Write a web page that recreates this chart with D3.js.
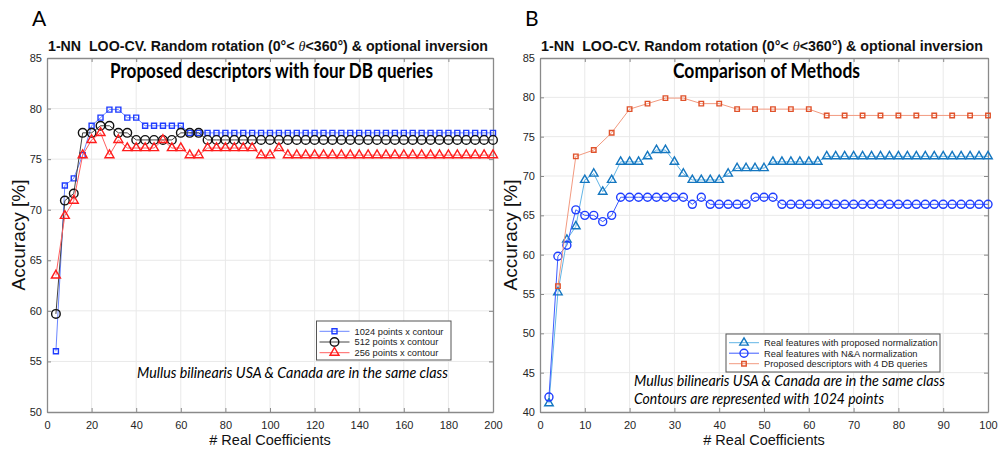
<!DOCTYPE html>
<html>
<head>
<meta charset="utf-8">
<script src="https://cdn.jsdelivr.net/npm/d3@7"></script>
<style>
  body { margin: 0; background: #fff; }
  svg { display: block; }
</style>
</head>
<body>
<svg id="chart" width="998" height="455"></svg>
<script>
// ---- data, panel A (accuracy vs number of real coefficients) ----
const coefA = [4,8,12,16,20,24,28,32,36,40,44,48,52,56,60,64,68,72,76,80,84,88,92,96,100,
  104,108,112,116,120,124,128,132,136,140,144,148,152,156,160,164,168,172,176,180,184,188,192,196,200]

const acc1024 = [56.0,72.4,73.1,75.4,78.3,79.1,79.9,79.9,79.1,79.1,78.3,78.3,78.3,78.3,78.3,77.6,77.6,77.6,77.6,77.6,
  77.6,77.6,77.6,77.6,77.6,77.6,77.6,77.6,77.6,77.6,77.6,77.6,77.6,77.6,77.6,77.6,77.6,77.6,77.6,77.6,
  77.6,77.6,77.6,77.6,77.6,77.6,77.6,77.6,77.6,77.6]
const acc512 = [59.7,70.9,71.6,77.6,77.6,78.3,78.3,77.6,77.6,76.9,76.9,76.9,76.9,76.9,77.6,77.6,77.6,76.9,76.9,76.9,
  76.9,76.9,76.9,76.9,76.9,76.9,76.9,76.9,76.9,76.9,76.9,76.9,76.9,76.9,76.9,76.9,76.9,76.9,76.9,76.9,
  76.9,76.9,76.9,76.9,76.9,76.9,76.9,76.9,76.9,76.9]
const acc256 = [63.5,69.4,70.9,75.4,76.9,77.6,75.4,76.9,76.1,76.1,76.1,76.1,76.9,76.1,76.1,75.4,75.4,76.1,76.1,76.1,
  76.1,76.1,76.1,75.4,75.4,76.1,75.4,75.4,75.4,75.4,75.4,75.4,75.4,75.4,75.4,75.4,75.4,75.4,75.4,75.4,
  75.4,75.4,75.4,75.4,75.4,75.4,75.4,75.4,75.4,75.4]

// ---- data, panel B ----
const coefB = [2,4,6,8,10,12,14,16,18,20,22,24,26,28,30,32,34,36,38,40,42,44,46,48,50,
  52,54,56,58,60,62,64,66,68,70,72,74,76,78,80,82,84,86,88,90,92,94,96,98,100]
const coefB4 = [4,8,12,16,20,24,28,32,36,40,44,48,52,56,60,64,68,72,76,80,84,88,92,96,100]

const accPropNorm = [41.1,55.2,61.9,63.6,69.5,70.3,68.0,69.5,71.8,71.8,71.8,72.5,73.3,73.3,71.8,70.3,69.5,69.5,69.5,69.5,
  70.3,71.0,71.0,71.0,71.0,71.8,71.8,71.8,71.8,71.8,71.8,72.5,72.5,72.5,72.5,72.5,72.5,72.5,72.5,72.5,
  72.5,72.5,72.5,72.5,72.5,72.5,72.5,72.5,72.5,72.5]
const accNANorm = [41.9,59.8,61.2,65.7,65.0,65.0,64.2,65.0,67.3,67.3,67.3,67.3,67.3,67.3,67.3,67.3,66.4,67.3,66.4,66.4,
  66.4,66.4,66.4,67.3,67.3,67.3,66.4,66.4,66.4,66.4,66.4,66.4,66.4,66.4,66.4,66.4,66.4,66.4,66.4,66.4,
  66.4,66.4,66.4,66.4,66.4,66.4,66.4,66.4,66.4,66.4]
const accProposed4 = [56.0,72.5,73.3,75.5,78.5,79.2,79.9,79.9,79.2,79.2,78.5,78.5,78.5,78.5,78.5,
  77.7,77.7,77.7,77.7,77.7,77.7,77.7,77.7,77.7,77.7]

const ticksXA = [0,20,40,60,80,100,120,140,160,180,200]
const ticksXB = [0,10,20,30,40,50,60,70,80,90,100]
const ticksYA = [50,55,60,65,70,75,80,85]
const ticksYB = [40,45,50,55,60,65,70,75,80,85]

const svg = d3.select("#chart")
svg.append("rect").attr("width", 998).attr("height", 455).attr("fill", "#fff")

const plotTop = 58, plotBottom = 412

function marker(kind, size) {
  if (kind == "square") return d3.symbol(d3.symbolSquare, size * size)()
  if (kind == "circle") return d3.symbol(d3.symbolCircle, Math.PI * size * size)()
  return d3.symbol(d3.symbolTriangle, Math.sqrt(3) / 4 * size * size)()
}

function panel(p) {
  const x = d3.scaleLinear().domain(p.xDomain).range([p.left, p.right])
  const y = d3.scaleLinear().domain(p.yDomain).range([plotBottom, plotTop])
  const g = svg.append("g")

  // grid
  g.selectAll(null).data(p.xTicks.slice(1, -1)).enter().append("line")
    .attr("x1", d => x(d)).attr("x2", d => x(d)).attr("y1", plotTop).attr("y2", plotBottom)
    .attr("stroke", "#e9e9e9").attr("stroke-width", 1)
  g.selectAll(null).data(p.yTicks.slice(1, -1)).enter().append("line")
    .attr("x1", p.left).attr("x2", p.right).attr("y1", d => y(d)).attr("y2", d => y(d))
    .attr("stroke", "#e9e9e9").attr("stroke-width", 1)

  // axes (ticks inward, box all around)
  const styleAxis = a => {
    a.select(".domain").attr("stroke", "#8a8a8a").attr("stroke-width", 1.3)
    a.selectAll(".tick line").attr("stroke", "#8a8a8a")
    a.selectAll("text").attr("fill", "#262626").style("font-family", "Liberation Sans, Arial, sans-serif").style("font-size", "11px")
  }
  g.append("g").attr("transform", `translate(0,${plotBottom})`)
    .call(d3.axisBottom(x).tickValues(p.xTicks).tickSizeInner(-4).tickSizeOuter(0).tickPadding(9))
    .call(styleAxis)
  g.append("g").attr("transform", `translate(0,${plotTop})`)
    .call(d3.axisTop(x).tickValues(p.xTicks).tickSizeInner(-4).tickSizeOuter(0).tickFormat(""))
    .call(styleAxis)
  g.append("g").attr("transform", `translate(${p.left},0)`)
    .call(d3.axisLeft(y).tickValues(p.yTicks).tickSizeInner(-4).tickSizeOuter(0).tickPadding(5))
    .call(styleAxis)
  g.append("g").attr("transform", `translate(${p.right},0)`)
    .call(d3.axisRight(y).tickValues(p.yTicks).tickSizeInner(-4).tickSizeOuter(0).tickFormat(""))
    .call(styleAxis)

  // series
  const line = d3.line().x(d => x(d[0])).y(d => y(d[1]))
  p.series.forEach(s => {
    const pts = s.xs.map((v, i) => [v, s.ys[i]])
    g.append("path").datum(pts).attr("d", line)
      .attr("fill", "none").attr("stroke", s.line).attr("stroke-width", 1)
    g.selectAll(null).data(pts).enter().append("path")
      .attr("d", marker(s.kind, s.size))
      .attr("transform", d => `translate(${x(d[0])},${y(d[1])})`)
      .attr("fill", "none").attr("stroke", s.color).attr("stroke-width", 1.4)
  })

  // legend
  const L = p.legend
  g.append("rect").attr("x", L.x).attr("y", L.y).attr("width", L.w).attr("height", L.h)
    .attr("fill", "#fff").attr("stroke", "#555").attr("stroke-width", 1)
  p.series.forEach((s, i) => {
    const ry = L.y + L.row0 + i * L.step
    g.append("line").attr("x1", L.x + 3).attr("x2", L.x + 33).attr("y1", ry).attr("y2", ry)
      .attr("stroke", s.line).attr("stroke-width", 1)
    g.append("path").attr("d", marker(s.kind, s.size))
      .attr("transform", `translate(${L.x + 18},${ry})`)
      .attr("fill", "none").attr("stroke", s.color).attr("stroke-width", 1.4)
    g.append("text").attr("x", L.x + 38).attr("y", ry + 3.3)
      .style("font-family", "Liberation Sans, Arial, sans-serif").style("font-size", "9.3px")
      .attr("fill", "#222").text(s.name)
  })

  // titles and labels
  const t = g.append("text").attr("x", p.left + 1).attr("y", 51)
    .attr("textLength", p.right - p.left - 6).attr("lengthAdjust", "spacingAndGlyphs")
    .style("font-family", "Liberation Sans, Arial, sans-serif").style("font-size", "14px")
    .style("font-weight", "bold").style("white-space", "pre").attr("fill", "#111")
  t.append("tspan").text("1-NN  LOO-CV. Random rotation (0°< ")
  t.append("tspan").style("font-family", "Liberation Serif, serif").style("font-style", "italic")
    .style("font-weight", "normal").text("θ")
  t.append("tspan").text("<360°) & optional inversion")

  g.append("text").attr("x", p.sub.x).attr("y", 78)
    .attr("textLength", p.sub.w).attr("lengthAdjust", "spacingAndGlyphs")
    .style("font-family", "Lato, sans-serif").style("font-size", "21px").style("font-weight", "bold")
    .attr("fill", "#000").text(p.sub.text)

  g.append("text").attr("x", p.letterX).attr("y", 26)
    .style("font-family", "Lato, sans-serif").style("font-size", "21px").attr("fill", "#000")
    .text(p.letter)

  g.append("text").attr("transform", `translate(${p.ylabX},${(plotTop + plotBottom) / 2}) rotate(-90)`)
    .attr("text-anchor", "middle")
    .style("font-family", "Liberation Sans, Arial, sans-serif").style("font-size", "19px")
    .attr("fill", "#111").text("Accuracy [%]")

  g.append("text").attr("x", (p.left + p.right) / 2).attr("y", 445).attr("text-anchor", "middle")
    .style("font-family", "Liberation Sans, Arial, sans-serif").style("font-size", "14.5px")
    .attr("fill", "#111").text("# Real Coefficients")

  p.notes.forEach(n => {
    g.append("text").attr("x", n.x).attr("y", n.y)
      .attr("textLength", n.w).attr("lengthAdjust", "spacingAndGlyphs")
      .style("font-family", "Lato, sans-serif").style("font-size", "15px").style("font-style", "italic")
      .attr("fill", "#000").text(n.text)
  })
}

panel({
  xDomain: [0, 200], yDomain: [50, 85], left: 47, right: 493,
  xTicks: ticksXA, yTicks: ticksYA,
  series: [
    { name: "1024 points x contour", xs: coefA, ys: acc1024, kind: "square", size: 5, color: "#1f3cff", line: "#6b86ff" },
    { name: "512 points x contour", xs: coefA, ys: acc512, kind: "circle", size: 4.3, color: "#111", line: "#444" },
    { name: "256 points x contour", xs: coefA, ys: acc256, kind: "triangle", size: 9, color: "#ff1c1c", line: "#ff6060" }
  ],
  legend: { x: 316.5, y: 321, w: 134.5, h: 39, row0: 10.3, step: 10.7 },
  sub: { x: 110, w: 323, text: "Proposed descriptors with four DB queries" },
  letter: "A", letterX: 32, ylabX: 25,
  notes: [{ x: 137, y: 378, w: 311, text: "Mullus bilinearis USA & Canada are in the same class" }]
})

panel({
  xDomain: [0, 100], yDomain: [40, 85], left: 540, right: 988,
  xTicks: ticksXB, yTicks: ticksYB,
  series: [
    { name: "Real features with proposed normalization", xs: coefB, ys: accPropNorm, kind: "triangle", size: 8.5, color: "#1577c0", line: "#62b5e6" },
    { name: "Real features with N&A normalization", xs: coefB, ys: accNANorm, kind: "circle", size: 4, color: "#1e3dff", line: "#3d5cff" },
    { name: "Proposed descriptors with 4 DB queries", xs: coefB4, ys: accProposed4, kind: "square", size: 4.5, color: "#e0532c", line: "#f29a80" }
  ],
  legend: { x: 726, y: 334, w: 214, h: 38, row0: 8.7, step: 10.5 },
  sub: { x: 673, w: 187, text: "Comparison of Methods" },
  letter: "B", letterX: 525, ylabX: 517,
  notes: [
    { x: 634, y: 386, w: 311, text: "Mullus bilinearis USA & Canada are in the same class" },
    { x: 634, y: 404, w: 250, text: "Contours are represented with 1024 points" }
  ]
})
</script>
</body>
</html>
